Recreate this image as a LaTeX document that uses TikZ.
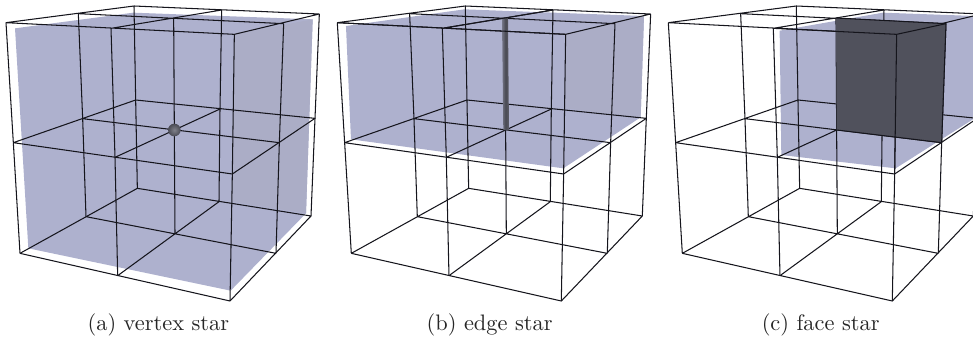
\documentclass[tikz,border=0pt]{standalone}
\definecolor{starblue}{HTML}{AEB1CE}
\definecolor{starside}{HTML}{ABADC6}
\definecolor{wire}{HTML}{15151C}
\definecolor{darkface}{HTML}{50515C}
\definecolor{edgegray}{HTML}{5C5D68}
\definecolor{ballin}{HTML}{80818A}
\definecolor{ballout}{HTML}{4A4B55}
\tikzset{
  wirestyle/.style={draw=wire,line width=1.05pt,line join=round},
  starfill/.style={fill=starblue},
  sidefill/.style={fill=starside},
  facefill/.style={fill=darkface},
  captionstyle/.style={anchor=base,inner sep=0pt,scale=2.24,text=black!85}
}
\newcommand{\cubepts}{%
  \coordinate (t00) at (402,18); \coordinate (t01) at (665,30); \coordinate (t02) at (958,42);
  \coordinate (t10) at (235,41); \coordinate (t11) at (521,54); \coordinate (t12) at (851,71);
  \coordinate (t20) at (18,68);  \coordinate (t21) at (333,85); \coordinate (t22) at (703,103);
  \coordinate (m00) at (407,300); \coordinate (m01) at (660,327); \coordinate (m02) at (945,355);
  \coordinate (m10) at (248,356); \coordinate (m11) at (523,390); \coordinate (m12) at (838,428);
  \coordinate (m20) at (40,428);  \coordinate (m21) at (345,472); \coordinate (m22) at (697,522);
  \coordinate (b00) at (412,565); \coordinate (b01) at (657,605); \coordinate (b02) at (933,648);
  \coordinate (b10) at (258,650); \coordinate (b11) at (525,702); \coordinate (b12) at (828,760);
  \coordinate (b20) at (60,760);  \coordinate (b21) at (353,827); \coordinate (b22) at (690,903);
}
\newcommand{\wires}{%
  \draw[wirestyle] (t00)--(t02) (t10)--(t12) (t20)--(t22) (t00)--(t20) (t01)--(t21) (t02)--(t22);
  \draw[wirestyle] (m00)--(m02) (m10)--(m12) (m20)--(m22) (m00)--(m20) (m01)--(m21) (m02)--(m22);
  \draw[wirestyle] (b00)--(b02) (b10)--(b12) (b20)--(b22) (b00)--(b20) (b01)--(b21) (b02)--(b22);
  \foreach \p in {00,01,02,10,11,12,20,21,22}{\draw[wirestyle] (t\p)--(m\p)--(b\p);}
}
\begin{document}
\begin{tikzpicture}[x=0.33333pt,y=-0.33333pt]
\useasboundingbox (0,0) rectangle (2919,1008);
\clip (0,0) rectangle (2919,1008);
% (a)
\begin{scope}
  \cubepts
  \fill[starfill] (45,85)--(400,38)--(938,58)--(918,640)--(692,872)--(85,745)--cycle;
  \fill[sidefill] (703,103)--(938,58)--(918,640)--(695,605)--cycle;
  \wires
  \shade[inner color=ballin,outer color=ballout] (m11) circle (19);
  \node[captionstyle] (capa) at (475,990) {(a) vertex star};
\end{scope}
% (b)
\begin{scope}[xshift=331.3pt]
  \cubepts
  \fill[starfill] (44,78)--(399,28)--(938,48)--(928,352)--(696,505)--(59,418)--cycle;
  \fill[sidefill] (703,103)--(938,48)--(928,352)--(700,325)--cycle;
  \wires
  \shade[left color=edgegray!70!starblue,right color=edgegray,middle color=edgegray!80!black]
     (512,53)--(530,53)--(533,390)--(516,390)--cycle;
  \draw[wirestyle] (t20)--(t22) (t01)--(t21);
  \node[captionstyle] (capb) at (475,990) {(b) edge star};
\end{scope}
% (c)
\begin{scope}[xshift=662.3pt]
  \cubepts
  \fill[starfill] (352,92)--(662,38)--(938,48)--(932,358)--(700,505)--(357,465)--cycle;
  \wires
  \fill[facefill] (t11)--(t12)--(m12)--(m11)--cycle;
  \draw[wirestyle] (t11)--(t12)--(t22)--(t21) (t22)--(m22) (t12)--(m12) (m12)--(m11);
  \node[captionstyle] (capc) at (475,990) {(c) face star};
\end{scope}
\end{tikzpicture}
\end{document}
